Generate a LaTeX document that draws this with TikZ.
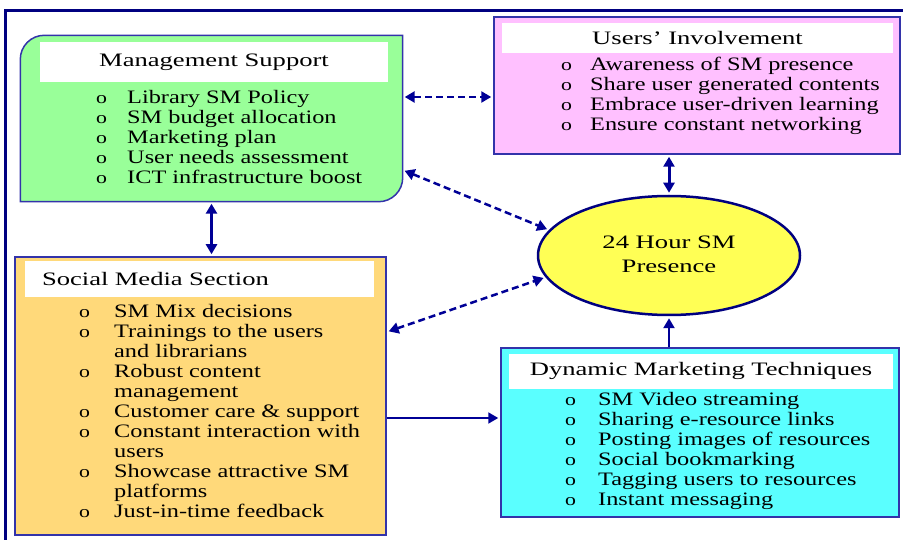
\documentclass[tikz,border=0pt]{standalone}
\usepackage{fontspec}
\setmainfont[FakeStretch=1.28]{Liberation Serif}
\newfontfamily\titlefont[FakeStretch=1.4]{Liberation Serif}
\usetikzlibrary{arrows.meta,shapes.geometric}
\definecolor{framenavy}{RGB}{0,0,128}
\definecolor{boxblue}{RGB}{51,51,170}
\definecolor{arrowblue}{RGB}{0,0,150}
\definecolor{msgreen}{RGB}{153,255,153}
\definecolor{uipink}{RGB}{255,192,255}
\definecolor{smsorange}{RGB}{255,217,122}
\definecolor{dmtcyan}{RGB}{90,255,255}
\definecolor{smyellow}{RGB}{255,255,85}
\newcommand{\bul}{{\fontsize{17}{17}\selectfont o}}
\begin{document}
\begin{tikzpicture}[x=1pt,y=-1pt,font=\fontsize{19}{20}\selectfont,
    panel/.style={rectangle,inner sep=0pt,draw=boxblue,line width=1.5pt},
    headbox/.style={rectangle,inner sep=0pt,fill=white,font=\titlefont\fontsize{19}{20}\selectfont},
    itemlist/.style={anchor=north west,inner sep=0pt,align=left},
    link/.style={draw=arrowblue,line width=3pt,shorten <=2pt,shorten >=2pt,
        {Triangle[length=10pt,width=11pt]}-{Triangle[length=10pt,width=11pt]}},
    oneway/.style={draw=arrowblue,line width=2.5pt,shorten >=2pt,-{Triangle[length=10pt,width=11pt]}},
    dashlink/.style={link,line width=2.5pt,dash pattern=on 7pt off 4pt}]
    \useasboundingbox (0,0) rectangle (903,540);
    \clip (0,0) rectangle (903,540);
    % ---- frame ----
    \draw[framenavy,line width=3pt] (5,560) |- (920,11);
    % ---- Management Support ----
    \node[rectangle,inner sep=0pt,minimum width=382pt,minimum height=166pt] (ms) at (211.5,118.5) {};
    \draw[draw=boxblue,line width=1.5pt,fill=msgreen] (ms.south west)
        -- ([yshift=-24pt]ms.north west) arc[start angle=180,end angle=90,radius=24pt]
        -- (ms.north east) -- ([yshift=24pt]ms.south east) arc[start angle=0,end angle=-90,radius=24pt]
        -- cycle;
    \node[headbox,minimum width=348pt,minimum height=40pt] (mstitle) at (214,62) {Management Support};
    \node[itemlist] (mslist) at (96,89) {\begin{tabular}{@{}p{31pt}@{}l@{}}
        \bul & Library SM Policy\\
        \bul & SM budget allocation\\
        \bul & Marketing plan\\
        \bul & User needs assessment\\
        \bul & ICT infrastructure boost
    \end{tabular}};
    % ---- Users' Involvement ----
    \node[panel,fill=uipink,minimum width=406pt,minimum height=137pt] (ui) at (697,85.5) {};
    \node[headbox,minimum width=391pt,minimum height=30pt] (uititle) at (697.5,38) {Users’ Involvement};
    \node[itemlist] (uilist) at (561,56) {\begin{tabular}{@{}p{29pt}@{}l@{}}
        \bul & Awareness of SM presence\\
        \bul & Share user generated contents\\
        \bul & Embrace user-driven learning\\
        \bul & Ensure constant networking
    \end{tabular}};
    % ---- Social Media Section ----
    \node[panel,fill=smsorange,minimum width=371pt,minimum height=278pt] (sms) at (200.5,396) {};
    \node[headbox,minimum width=349pt,minimum height=36pt,inner xsep=17pt,text width=315pt,align=left] (smstitle) at (199.5,279) {Social Media Section};
    \node[itemlist] (smslist) at (79,303) {\begin{tabular}{@{}p{35pt}@{}l@{}}
        \bul & SM Mix decisions\\
        \bul & Trainings to the users\\
             & and librarians\\
        \bul & Robust content\\
             & management\\
        \bul & Customer care \& support\\
        \bul & Constant interaction with\\
             & users\\
        \bul & Showcase attractive SM\\
             & platforms\\
        \bul & Just-in-time feedback
    \end{tabular}};
    % ---- Dynamic Marketing Techniques ----
    \node[panel,fill=dmtcyan,minimum width=398pt,minimum height=169pt] (dmt) at (700,432.5) {};
    \node[headbox,minimum width=384pt,minimum height=35pt] (dmttitle) at (701,371) {Dynamic Marketing Techniques};
    \node[itemlist] (dmtlist) at (565,391) {\begin{tabular}{@{}p{33pt}@{}l@{}}
        \bul & SM Video streaming\\
        \bul & Sharing e-resource links\\
        \bul & Posting images of resources\\
        \bul & Social bookmarking\\
        \bul & Tagging users to resources\\
        \bul & Instant messaging
    \end{tabular}};
    % ---- 24 Hour SM Presence ----
    \node[ellipse,draw=framenavy,line width=2.5pt,fill=smyellow,inner sep=0pt,
        minimum width=262pt,minimum height=119pt,
        font=\titlefont\fontsize{19}{24}\selectfont] (sm) at (669,255.5)
        {\raisebox{4pt}{\begin{tabular}{@{}c@{}}24 Hour SM\\Presence\end{tabular}}};
    % ---- links ----
    \coordinate (msr) at ([yshift=21.5pt]ms.east);
    \draw[dashlink] (msr) -- (msr -| ui.west);
    \draw[dashlink] ([yshift=-51.5pt]ms.east) -- (sm.168);
    \draw[dashlink] ([yshift=64pt]sms.east) -- (sm.190);
    \draw[link] (ms.south) -- (ms.south |- sms.north);
    \draw[link] (sm.north) -- (sm.north |- ui.south);
    \draw[oneway] (sm.south |- dmt.north) -- (sm.south);
    \coordinate (smsr) at ([yshift=-22pt]sms.east);
    \draw[oneway,line width=2pt] (smsr) -- (smsr -| dmt.west);
\end{tikzpicture}
\end{document}
